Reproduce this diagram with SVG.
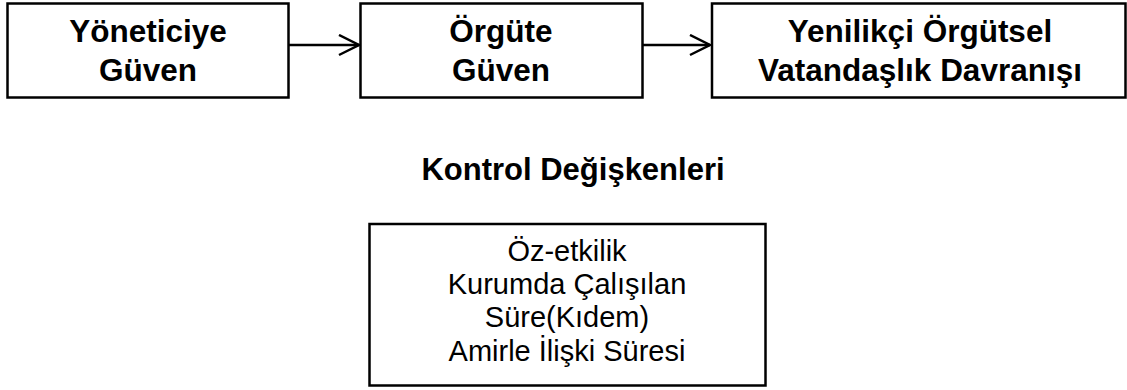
<svg xmlns="http://www.w3.org/2000/svg" width="1127" height="390" viewBox="0 0 1127 390">
<style>
.box{fill:#fff;stroke:#000;stroke-width:2.5}
.b{font-family:"Liberation Sans",Arial,sans-serif;font-weight:bold;font-size:31.5px;fill:#000;text-anchor:middle}
.r{font-family:"Liberation Sans",Arial,sans-serif;font-size:29px;fill:#000;text-anchor:middle}
.c{stroke:#000;stroke-width:2.5;fill:none}
</style>
<defs>
<marker id="ah" markerWidth="24" markerHeight="24" refX="21" refY="11" markerUnits="userSpaceOnUse" orient="auto">
<path d="M1,1 L21,11 L1,21" fill="none" stroke="#000" stroke-width="2.5"/>
</marker>
</defs>
<rect width="1127" height="390" fill="#fff"/>
<g id="connectors">
<line class="c" x1="289" y1="45" x2="359" y2="45" marker-end="url(#ah)"/>
<line class="c" x1="643" y1="45" x2="710" y2="45" marker-end="url(#ah)"/>
</g>
<g id="n1">
<rect class="box" x="7.5" y="3.5" width="281" height="94"/>
<text class="b" x="148" y="42">Yöneticiye</text>
<text class="b" x="148" y="81">Güven</text>
</g>
<g id="n2">
<rect class="box" x="360.5" y="3.5" width="282" height="94"/>
<text class="b" x="501" y="42">Örgüte</text>
<text class="b" x="501" y="81">Güven</text>
</g>
<g id="n3">
<rect class="box" x="712" y="3.5" width="413.5" height="94"/>
<text class="b" x="920" y="42">Yenilikçi Örgütsel</text>
<text class="b" x="920" y="81">Vatandaşlık Davranışı</text>
</g>
<g id="label">
<text class="b" x="573" y="180" style="font-size:31px">Kontrol Değişkenleri</text>
</g>
<g id="n4">
<rect class="box" x="369.5" y="224" width="396" height="161.5"/>
<text class="r" x="567" y="261">Öz-etkilik</text>
<text class="r" x="567" y="294">Kurumda Çalışılan</text>
<text class="r" x="567" y="327">Süre(Kıdem)</text>
<text class="r" x="567" y="361">Amirle İlişki Süresi</text>
</g>
</svg>
